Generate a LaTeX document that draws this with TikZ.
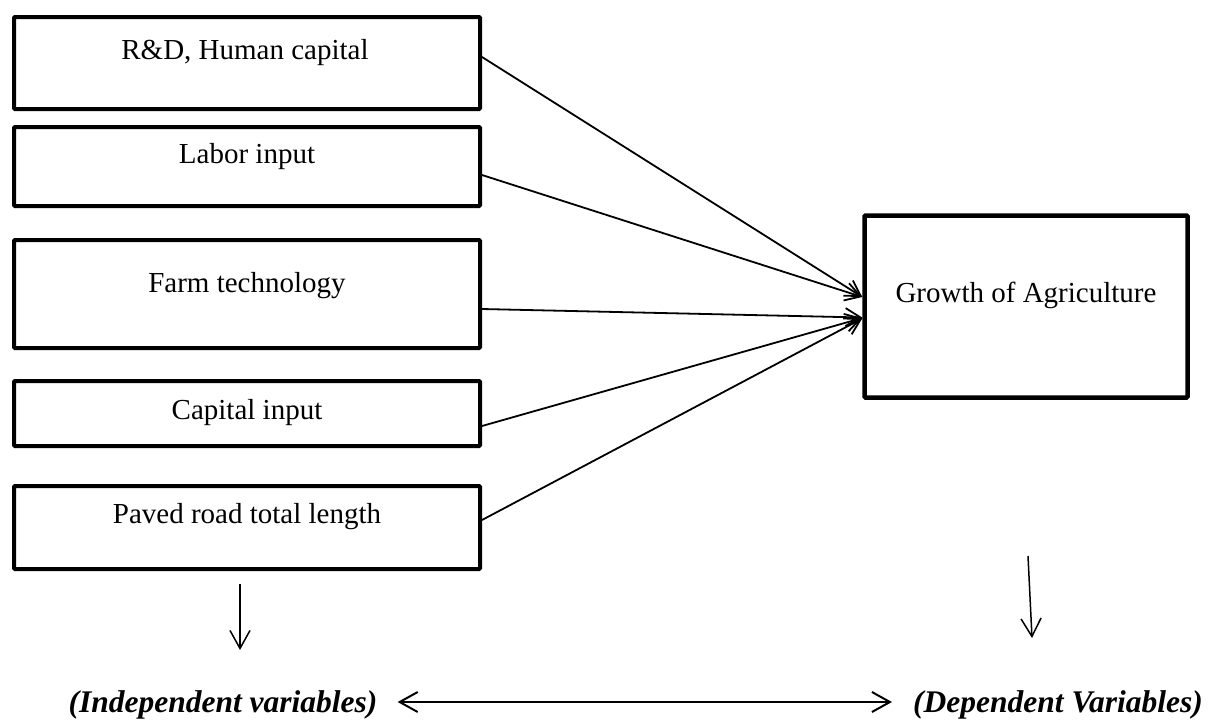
\documentclass[tikz,border=0pt]{standalone}
\usepackage{fontspec}
\setmainfont{Liberation Serif}
\usetikzlibrary{arrows.meta,calc}
\tikzset{
  varbox/.style={draw=black, line width=4pt, rounded corners=1pt, minimum width=466pt, inner sep=0pt, fill=white},
  boxtext/.style={anchor=base, inner sep=0pt, font=\fontsize{29}{34}\selectfont},
  footlabel/.style={anchor=base, inner sep=0pt, font=\fontsize{31.5}{36}\selectfont\bfseries\itshape},
  link/.style={line width=1.8pt, -{Straight Barb[length=15pt,width=18pt,line width=1.8pt]}},
  downarrow/.style={line width=1.5pt, -{Straight Barb[length=18pt,width=20pt,line width=1.5pt]}},
  bothways/.style={line width=2.5pt, {Straight Barb[length=18pt,width=20pt,line width=2pt]}-{Straight Barb[length=18pt,width=20pt,line width=2pt]}}
}
\begin{document}
\begin{tikzpicture}[x=1pt,y=-1pt]
\useasboundingbox[fill=white] (0,0) rectangle (1214,720);

% independent variable boxes
\node[varbox, minimum height=92pt] (b1) at (247,63) {};
\node[varbox, minimum height=79pt] (b2) at (247,166.5) {};
\node[varbox, minimum height=108pt] (b3) at (247,294) {};
\node[varbox, minimum height=65pt] (b4) at (247,413.5) {};
\node[varbox, minimum height=83pt] (b5) at (247,527.5) {};

\node[boxtext] (t1) at (245,59) {R\&D, Human capital};
\node[boxtext] (t2) at (247,163) {Labor input};
\node[boxtext] (t3) at (247,292) {Farm technology};
\node[boxtext] (t4) at (247,419) {Capital input};
\node[boxtext] (t5) at (247,523) {Paved road total length};

% dependent variable box
\node[varbox, line width=4.5pt, minimum width=323pt, minimum height=182pt] (g) at (1026,306.5) {};
\node[boxtext] (tg) at (1026,302) {Growth of Agriculture};

% connectors
\draw[link] ([yshift=6pt]b1.east) -- ([yshift=9.5pt]g.west);
\draw[link] ([yshift=-8.5pt]b2.east) -- ([yshift=9.5pt]g.west);
\draw[link] ([yshift=-15pt]b3.east) -- ([yshift=-11pt]g.west);
\draw[link] ([yshift=-12.5pt]b4.east) -- ([yshift=-11.5pt]g.west);
\draw[link] ([yshift=7.5pt]b5.east) -- ([yshift=-12pt]g.west);

% footer labels
\node[footlabel] (ind) at (223,712) {(Independent variables)};
\node[footlabel] (dep) at (1058,712) {(Dependent Variables)};

% down arrows
\coordinate (la) at (240,584);
\coordinate (lb) at (240,650);
\coordinate (ra) at (1028,556);
\coordinate (rb) at (1032,638);
\draw[downarrow] (la) -- (lb);
\draw[downarrow] (ra) -- (rb);

% double arrow
\draw[bothways] ([xshift=20pt]ind.east |- 0,702) -- ([xshift=-21pt]dep.west |- 0,702);
\end{tikzpicture}
\end{document}
